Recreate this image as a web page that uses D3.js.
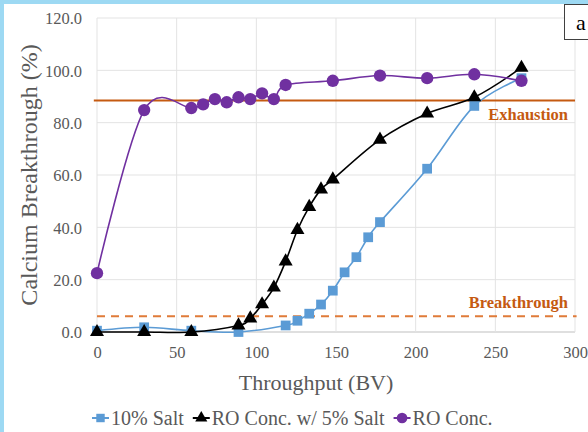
<!DOCTYPE html>
<html>
<head>
<meta charset="utf-8">
<script src="https://cdn.jsdelivr.net/npm/d3@7"></script>
<style>
  body { margin: 0; background: #9dd9f3; }
  svg { display: block; }
</style>
</head>
<body>
<script>
// throughput (BV) for each series
const bvSalt = [0, 29.6, 59.2, 88.8, 118.4, 125.8, 133.2, 140.6, 148, 155.4, 162.8, 170.2, 177.6, 207.2, 236.8, 266.4]
const bvRoSalt = [0, 29.6, 59.2, 88.8, 96.2, 103.6, 111, 118.4, 125.8, 133.2, 140.6, 148, 177.6, 207.2, 236.8, 266.4]
const bvRo = [0, 29.6, 59.2, 66.6, 74, 81.4, 88.8, 96.2, 103.6, 111, 118.4, 148, 177.6, 207.2, 236.8, 266.4]

// calcium breakthrough (%)
const salt10 = [0.5, 1.8, 0.5, 0, 2.5, 4.3, 7, 10.5, 15.8, 22.8, 28.6, 36.2, 42, 62.4, 86.4, 97]
const roSalt5 = [0, 0, 0, 2.5, 5.2, 10.6, 17, 27, 39, 47.8, 54.5, 58.3, 73.5, 83.5, 89.7, 101]
const roConc = [22.5, 84.8, 85.6, 87, 89, 87.8, 89.7, 89, 91.2, 89, 94.4, 96, 98, 97, 98.5, 96]

const xTicks = [0, 50, 100, 150, 200, 250, 300]
const yTicks = [0, 20, 40, 60, 80, 100, 120]
const exhaustion = 88.5
const breakthrough = 6

const font = '"Liberation Serif", "Times New Roman", serif'

const W = 588, H = 432
const svg = d3.select('body').append('svg')
    .attr('width', W)
    .attr('height', H)
    .attr('font-family', font)

// white card over the blue frame
svg.append('rect')
    .attr('x', 4).attr('y', 4)
    .attr('width', W - 4).attr('height', H - 4)
    .attr('fill', '#fff')

const xScale = d3.scaleLinear().domain([0, 300]).range([97, 575])
const yScale = d3.scaleLinear().domain([0, 120]).range([332, 18])

// gridlines
svg.append('g').selectAll('line').data(yTicks).enter().append('line')
    .attr('x1', xScale(0)).attr('x2', xScale(300))
    .attr('y1', d => yScale(d)).attr('y2', d => yScale(d))
    .attr('stroke', d => d == 0 ? '#bfbfbf' : '#e3e3e3')
    .attr('stroke-width', 1)
svg.append('g').selectAll('line').data(xTicks).enter().append('line')
    .attr('x1', d => xScale(d)).attr('x2', d => xScale(d))
    .attr('y1', yScale(0)).attr('y2', yScale(120))
    .attr('stroke', '#e3e3e3')
    .attr('stroke-width', 1)

// axes (labels only)
const xAxis = svg.append('g')
    .attr('transform', 'translate(0,' + yScale(0) + ')')
    .call(d3.axisBottom(xScale).tickValues(xTicks).tickSize(0).tickPadding(14))
const yAxis = svg.append('g')
    .attr('transform', 'translate(' + xScale(0) + ',0)')
    .call(d3.axisLeft(yScale).tickValues(yTicks).tickFormat(d3.format('.1f')).tickSize(0).tickPadding(15))
for (const ax of [xAxis, yAxis]) {
    ax.attr('font-family', font).attr('font-size', 16.5)
    ax.select('.domain').remove()
    ax.selectAll('text').attr('fill', '#595959')
}
yAxis.selectAll('text').attr('dy', '0.35em')

// exhaustion / breakthrough reference lines
svg.append('line')
    .attr('x1', xScale(-2)).attr('x2', xScale(300))
    .attr('y1', yScale(exhaustion)).attr('y2', yScale(exhaustion))
    .attr('stroke', '#c55a11').attr('stroke-width', 2)
svg.append('line')
    .attr('x1', xScale(0)).attr('x2', xScale(301))
    .attr('y1', yScale(breakthrough)).attr('y2', yScale(breakthrough))
    .attr('stroke', '#e07b39').attr('stroke-width', 2)
    .attr('stroke-dasharray', '8,6')
svg.append('text')
    .attr('x', 568).attr('y', yScale(exhaustion) + 20)
    .attr('text-anchor', 'end')
    .attr('font-size', '16.5px').attr('font-weight', 'bold')
    .attr('fill', '#c55a11')
    .text('Exhaustion')
svg.append('text')
    .attr('x', 568).attr('y', yScale(breakthrough) - 8)
    .attr('text-anchor', 'end')
    .attr('font-size', '16.5px').attr('font-weight', 'bold')
    .attr('fill', '#c55a11')
    .text('Breakthrough')

// series
const series = [
    {name: '10% Salt', xs: bvSalt, ys: salt10, color: '#5b9bd5', shape: d3.symbolSquare, size: 95},
    {name: 'RO Conc. w/ 5% Salt', xs: bvRoSalt, ys: roSalt5, color: '#000000', shape: d3.symbolTriangle, size: 85},
    {name: 'RO Conc.', xs: bvRo, ys: roConc, color: '#7030a0', shape: d3.symbolCircle, size: 120}
]

// excel-like smoothing (uniform catmull-rom)
const line = d3.line()
    .x(d => xScale(d[0]))
    .y(d => yScale(d[1]))
    .curve(d3.curveCardinal.tension(0))

series.forEach(s => {
    const pts = s.xs.map((x, i) => [x, s.ys[i]])
    svg.append('path')
        .datum(pts)
        .attr('d', line)
        .attr('fill', 'none')
        .attr('stroke', s.color)
        .attr('stroke-width', 1.6)
    svg.append('g').selectAll('path').data(pts).enter().append('path')
        .attr('transform', d => 'translate(' + xScale(d[0]) + ',' + yScale(d[1]) + ')')
        .attr('d', d3.symbol().type(s.shape).size(s.size))
        .attr('fill', s.color)
})

// axis titles
svg.append('text')
    .attr('x', 316).attr('y', 390)
    .attr('text-anchor', 'middle')
    .attr('font-size', '22px')
    .attr('fill', '#595959')
    .text('Throughput (BV)')
svg.append('text')
    .attr('transform', 'translate(37,175) rotate(-90)')
    .attr('text-anchor', 'middle')
    .attr('font-size', '24px')
    .attr('fill', '#595959')
    .text('Calcium Breakthrough (%)')

// legend, laid out left to right
let lx = 92
series.forEach(s => {
    const g = svg.append('g').attr('transform', 'translate(' + lx + ',418)')
    g.append('line').attr('x1', 0).attr('x2', 17).attr('y1', 0).attr('y2', 0)
        .attr('stroke', s.color).attr('stroke-width', 2)
    g.append('path').attr('transform', 'translate(8.5,0)')
        .attr('d', d3.symbol().type(s.shape).size(s.size * 0.75))
        .attr('fill', s.color)
    const t = g.append('text').attr('x', 19).attr('y', 7)
        .attr('font-size', '20px')
        .attr('fill', '#595959')
        .text(s.name)
    lx += 19 + t.node().getComputedTextLength() + 9
})

// panel label
svg.append('rect')
    .attr('x', 564.5).attr('y', 4.5)
    .attr('width', 30).attr('height', 35)
    .attr('fill', '#fff')
    .attr('stroke', '#404040')
svg.append('text')
    .attr('x', 576).attr('y', 30)
    .attr('font-size', '22px')
    .attr('fill', '#000')
    .text('a')
</script>
</body>
</html>
